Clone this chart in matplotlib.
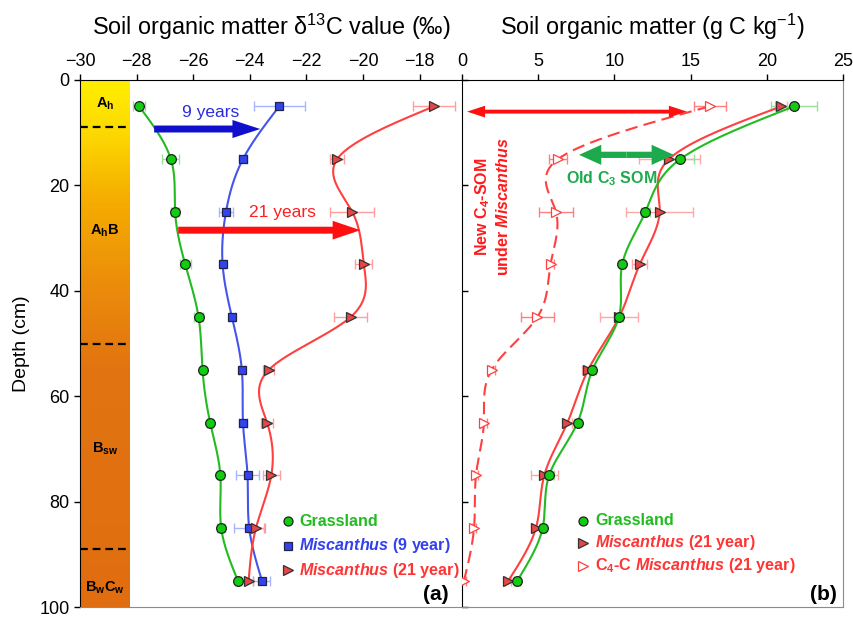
import numpy as np
import matplotlib.pyplot as plt
from matplotlib.patches import FancyArrowPatch
from matplotlib.colors import LinearSegmentedColormap

plt.rcParams['font.family'] = ['Liberation Sans', 'DejaVu Sans']
plt.rcParams['mathtext.fontset'] = 'custom'
plt.rcParams['mathtext.rm'] = 'Liberation Sans'
plt.rcParams['mathtext.it'] = 'Liberation Sans:italic'
plt.rcParams['mathtext.bf'] = 'Liberation Sans:bold'
plt.rcParams['mathtext.bfit'] = 'Liberation Sans:bold:italic'

# sampling depths (cm)
depth = [5, 15, 25, 35, 45, 55, 65, 75, 85, 95]

# (a) d13C values
d13c_grass = [-27.91, -26.79, -26.64, -26.28, -25.81, -25.67, -25.40, -25.04, -25.01, -24.42]
d13c_grass_err = [0.2, 0.3, 0.15, 0.2, 0.15, 0.1, 0.1, 0.1, 0.15, 0.1]
d13c_mis9 = [-22.96, -24.24, -24.84, -24.96, -24.63, -24.28, -24.24, -24.08, -24.02, -23.57]
d13c_mis9_err = [0.9, 0.15, 0.25, 0.1, 0.1, 0.1, 0.15, 0.4, 0.55, 0.3]
d13c_mis21 = [-17.49, -20.91, -20.38, -19.97, -20.44, -23.33, -23.39, -23.24, -23.78, -24.04]
d13c_mis21_err = [0.74, 0.25, 0.77, 0.3, 0.6, 0.2, 0.2, 0.3, 0.3, 0.15]

# (b) SOM content
som_grass = [21.78, 14.33, 12.04, 10.51, 10.29, 8.56, 7.58, 5.72, 5.29, 3.63]
som_grass_err = [1.5, 0.9, 0.3, 0.2, 0.3, 0.2, 0.2, 0.3, 0.2, 0.2]
som_mis21 = [20.95, 13.59, 12.97, 11.66, 10.31, 8.28, 6.92, 5.40, 4.85, 3.04]
som_mis21_err = [0.4, 2.0, 2.2, 0.5, 1.25, 0.4, 0.3, 0.9, 0.3, 0.2]
som_c4 = [16.25, 6.31, 6.16, 5.81, 4.94, 1.94, 1.44, 0.92, 0.79, 0.13]
som_c4_err = [1.05, 0.6, 1.1, 0.2, 1.1, 0.2, 0.2, 0.15, 0.15, 0.1]

# soil horizons
horizon_bounds = [9, 50, 89]
horizon_labels = [r'$\mathbf{A_h}$', r'$\mathbf{A_hB}$', r'$\mathbf{B_{sw}}$', r'$\mathbf{B_wC_w}$']
horizon_label_depth = [4.5, 28.7, 70, 96.4]

GREEN = '#22BB22'
BLUE = '#4455EE'
RED = '#FF4040'


def smooth(d, v, n=400):
    # natural cubic spline through the points, x as function of depth
    d = np.asarray(d, float)
    v = np.asarray(v, float)
    h = np.diff(d)
    m = len(d)
    A = np.zeros((m, m))
    b = np.zeros(m)
    A[0, 0] = A[-1, -1] = 1
    for i in range(1, m - 1):
        A[i, i - 1] = h[i - 1]
        A[i, i] = 2 * (h[i - 1] + h[i])
        A[i, i + 1] = h[i]
        b[i] = 6 * ((v[i + 1] - v[i]) / h[i] - (v[i] - v[i - 1]) / h[i - 1])
    M = np.linalg.solve(A, b)
    dd = np.linspace(d[0], d[-1], n)
    k = np.clip(np.searchsorted(d, dd) - 1, 0, m - 2)
    t0 = d[k + 1] - dd
    t1 = dd - d[k]
    hk = h[k]
    vv = (M[k] * t0 ** 3 / (6 * hk) + M[k + 1] * t1 ** 3 / (6 * hk)
          + (v[k] / hk - M[k] * hk / 6) * t0 + (v[k + 1] / hk - M[k + 1] * hk / 6) * t1)
    return vv, dd


def arrow(ax, start, end, color, tail, hw, hl):
    style = f'simple,head_length={hl},head_width={hw},tail_width={tail}'
    ax.add_patch(FancyArrowPatch(start, end, arrowstyle=style, mutation_scale=10,
                                 color=color, lw=0, shrinkA=0, shrinkB=0, zorder=6))


def series(ax, x, err, color, ecolor, marker, mfc, mec, ls='-', ms=7):
    xs, ys = smooth(depth, x)
    if ls == '--':
        ax.plot(xs, ys, color=color, lw=1.5, dashes=(6, 3), zorder=3)
    else:
        ax.plot(xs, ys, color=color, lw=1.5, zorder=3)
    ax.errorbar(x, depth, xerr=err, fmt='none', ecolor=ecolor, elinewidth=1,
                capsize=3.5, capthick=1, zorder=2)
    ax.plot(x, depth, ls='none', marker=marker, ms=ms, mfc=mfc, mec=mec, mew=0.9, zorder=5)


fig = plt.figure(figsize=(8.54, 6.17), dpi=100)
ax1 = fig.add_axes([80 / 854, 10 / 617, 382 / 854, 527 / 617])
ax2 = fig.add_axes([462 / 854, 10 / 617, 381 / 854, 527 / 617])

# ---------- panel (a)
cmap = LinearSegmentedColormap.from_list('soil', [(0, '#FFEE00'), (0.1, '#FDD800'), (0.22, '#F5AE00'),
                                                  (0.4, '#EB8A0C'), (0.55, '#E27410'), (1, '#E06E10')])
grad = np.linspace(0, 1, 200).reshape(-1, 1)
ax1.imshow(grad, cmap=cmap, extent=[-30, -28.25, 100, 0], aspect='auto', zorder=1)
for b in horizon_bounds:
    ax1.plot([-30, -28.25], [b, b], color='black', lw=1.6, dashes=(3.5, 2.2), zorder=2)
for lab, d in zip(horizon_labels, horizon_label_depth):
    ax1.text(-29.12, d, lab, ha='center', va='center', fontsize=10.5, zorder=3)

series(ax1, d13c_grass, d13c_grass_err, GREEN, '#99E099', 'o', '#11CC11', '#222222')
series(ax1, d13c_mis9, d13c_mis9_err, BLUE, '#A8B4FF', 's', '#3344EE', '#222244', ms=6.3)
series(ax1, d13c_mis21, d13c_mis21_err, RED, '#FF9E9E', '>', '#E84545', '#333333')

arrow(ax1, (-27.38, 9.3), (-23.63, 9.3), '#1010CC', 0.5, 1.3, 2.0)
arrow(ax1, (-26.53, 28.5), (-20.09, 28.5), '#FF1010', 0.5, 1.35, 2.0)
ax1.text(-25.4, 6.2, '9 years', color='#2B2BDD', fontsize=12.5, ha='center', va='center')
ax1.text(-22.86, 25.1, '21 years', color='#FF2020', fontsize=12.5, ha='center', va='center')

# legend (a)
leg_a = [('o', '#11CC11', '#222222', 'Grassland', GREEN, 6.5),
         ('s', '#3344EE', '#222244', r'$\mathbfit{Miscanthus}$ (9 year)', '#3340EE', 6),
         ('>', '#E84545', '#333333', r'$\mathbfit{Miscanthus}$ (21 year)', '#FF3535', 6.5)]
for (mk, fc, ec, lab, tc, ms), d in zip(leg_a, [83.7, 88.4, 93.0]):
    ax1.plot(-22.64, d, marker=mk, ms=ms, mfc=fc, mec=ec, mew=0.9, ls='none', zorder=5)
    ax1.text(-22.25, d, lab, color=tc, fontsize=11.6, fontweight='bold', va='center', ha='left')
ax1.text(-17.43, 97.6, '(a)', fontsize=15, fontweight='bold', ha='center', va='center')

ax1.set_xlim(-30, -16.5)
ax1.set_ylim(100, 0)
ax1.xaxis.tick_top()
ax1.set_xticks(np.arange(-30, -17, 2))
ax1.set_yticks(np.arange(0, 101, 20))
ax1.tick_params(direction='out', length=4, labelsize=13, width=1)
ax1.spines['right'].set_visible(False)
ax1.spines['bottom'].set_color('#8C8C8C')

# ---------- panel (b)
series(ax2, som_c4, som_c4_err, RED, '#FF8080', '>', 'white', RED, ls='--')
series(ax2, som_mis21, som_mis21_err, RED, '#FFA8A8', '>', '#E84545', '#333333')
series(ax2, som_grass, som_grass_err, GREEN, '#99E099', 'o', '#11CC11', '#222222')

mid = (0.33 + 14.76) / 2
arrow(ax2, (mid, 6.0), (0.33, 6.0), '#FF1010', 0.28, 0.85, 1.3)
arrow(ax2, (mid, 6.0), (14.76, 6.0), '#FF1010', 0.28, 0.85, 1.3)
mid = (7.68 + 13.9) / 2
arrow(ax2, (mid, 14.2), (7.68, 14.2), '#1DAA4D', 0.45, 1.45, 1.6)
arrow(ax2, (mid, 14.2), (13.9, 14.2), '#1DAA4D', 0.45, 1.45, 1.6)
ax2.text(9.84, 18.8, r'Old C$_\mathbf{3}$ SOM', color='#1DAA4D', fontsize=11.5,
         fontweight='bold', ha='center', va='center')
ax2.text(1.97, 24.0, 'New C$_\\mathbf{4}$-SOM\nunder $\\mathbfit{Miscanthus}$', color='#FF1A1A',
         fontsize=11.5, fontweight='bold', rotation=90, ha='center', va='center',
         multialignment='center')

leg_b = [('o', '#11CC11', '#222222', 'Grassland', GREEN),
         ('>', '#E84545', '#333333', r'$\mathbfit{Miscanthus}$ (21 year)', '#FF3535'),
         ('>', 'white', RED, r'C$_\mathbf{4}$-C $\mathbfit{Miscanthus}$ (21 year)', '#FF3535')]
for (mk, fc, ec, lab, tc), d in zip(leg_b, [83.6, 87.8, 92.2]):
    ax2.plot(7.94, d, marker=mk, ms=6.5, mfc=fc, mec=ec, mew=0.9, ls='none', zorder=5)
    ax2.text(8.73, d, lab, color=tc, fontsize=11.6, fontweight='bold', va='center', ha='left')
ax2.text(23.69, 97.6, '(b)', fontsize=15, fontweight='bold', ha='center', va='center')

ax2.set_xlim(0, 25)
ax2.set_ylim(100, 0)
ax2.xaxis.tick_top()
ax2.set_xticks(np.arange(0, 26, 5))
ax2.set_yticks(np.arange(0, 101, 20))
ax2.set_yticklabels([])
ax2.tick_params(axis='x', direction='out', length=4, labelsize=13, width=1)
ax2.tick_params(axis='y', direction='in', length=4, width=1)
ax2.spines['bottom'].set_color('#8C8C8C')
ax2.spines['right'].set_color('#8C8C8C')

fig.text(271 / 854, 1 - 27 / 617, r'Soil organic matter δ$^{13}$C value (‰)', fontsize=16.8,
         ha='center', va='center')
fig.text(652 / 854, 1 - 27 / 617, r'Soil organic matter (g C kg$^{-1}$)', fontsize=16.8,
         ha='center', va='center')
fig.text(22 / 854, 1 - 344 / 617, 'Depth (cm)', fontsize=14, rotation=90, ha='center', va='center')

fig.savefig('out.png', dpi=100)
